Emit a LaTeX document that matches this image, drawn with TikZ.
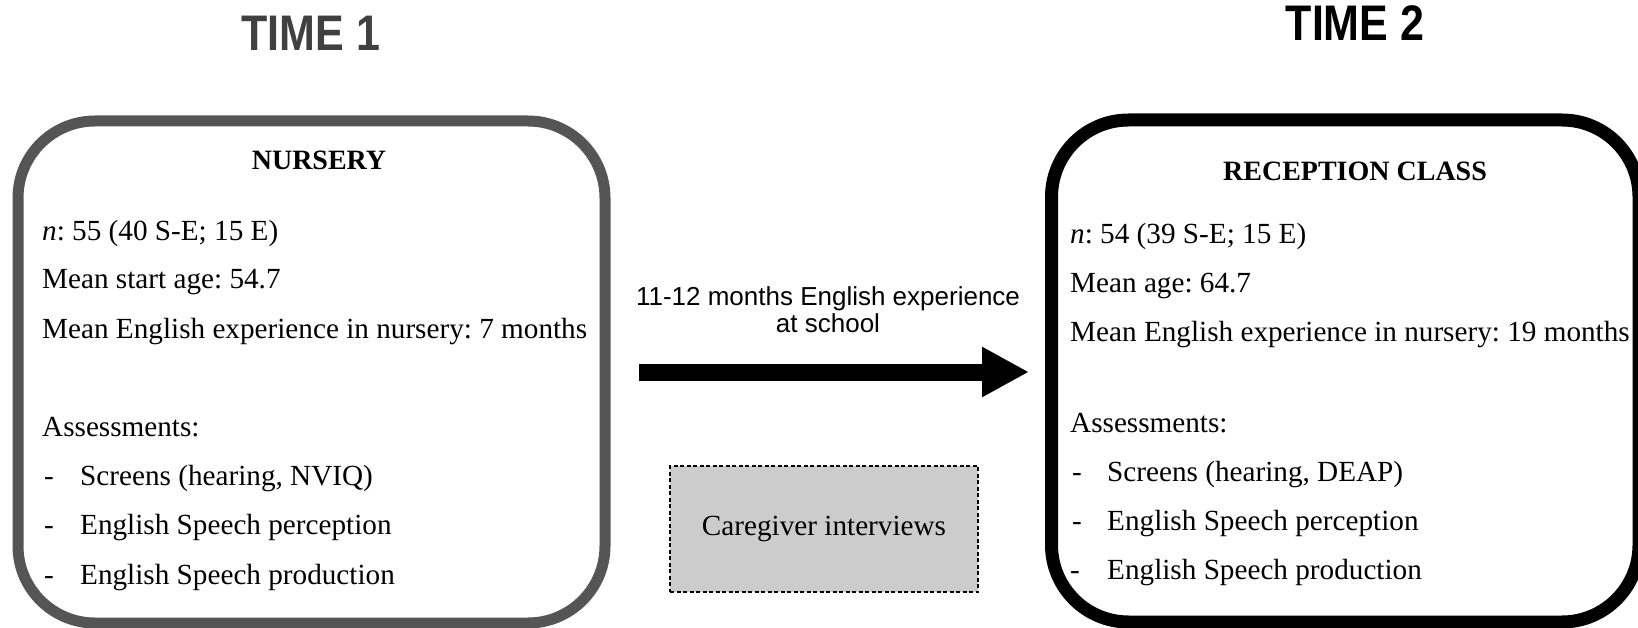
\documentclass[tikz,border=0pt]{standalone}
\usepackage{fontspec}
\setmainfont{Liberation Serif}
\newfontfamily\arialfont{Liberation Sans}
\usetikzlibrary{arrows.meta}
\frenchspacing
\definecolor{boxgray}{HTML}{555555}
\definecolor{titlegray}{HTML}{404040}
\definecolor{fillgray}{HTML}{CCCCCC}
\newcommand{\myBody}{\fontsize{29.2}{34}\selectfont}
\newcommand{\myHead}{\fontsize{28}{34}\selectfont\bfseries}
\newcommand{\myTitle}{\arialfont\bfseries\fontsize{50}{50}\selectfont}
\tikzset{
  bigbox/.style={draw, rounded corners=77pt, inner sep=0pt, line width=11pt},
  bodytext/.style={anchor=base west, inner sep=0pt, font=\myBody},
  headtext/.style={anchor=base, inner sep=0pt, font=\myHead},
  titletext/.style={inner sep=0pt, font=\myTitle},
  bigarrow/.style={line width=17pt, -{Triangle[length=47pt, width=47pt]}},
  carebox/.style={draw, dashed, dash pattern=on 4pt off 2.5pt, line width=1.5pt, fill=fillgray, inner sep=0pt, minimum width=308pt, minimum height=126pt, font=\myBody},
  arrowlabel/.style={align=center, inner sep=0pt, font=\arialfont\fontsize{26}{27}\selectfont}
}
\begin{document}
\begin{tikzpicture}[x=1pt, y=-1pt]
\useasboundingbox (0,0) rectangle (1638,628);
% titles
\node[titletext, text=titlegray] (t1) at (311,33) {\scalebox{0.86}[1]{TIME 1}};
\node[titletext, text=black] (t2) at (1355,23) {\scalebox{0.86}[1]{TIME 2}};
% left box
\node[bigbox, draw=boxgray, minimum width=587pt, minimum height=502pt] (nursery) at (311.5,372) {};
\node[headtext] (nh) at (319,170) {NURSERY};
\node[bodytext] (n1) at (42,241) {\textit{n}: 55 (40 S-E; 15 E)};
\node[bodytext] (n2) at (42,289) {Mean start age: 54.7};
\node[bodytext] (n3) at (42,338) {Mean English experience in nursery: 7 months};
\node[bodytext] (n4) at (42,436) {Assessments:};
\node[bodytext] (nd1) at (44,485) {-};
\node[bodytext] (n5) at (80,485) {Screens (hearing, NVIQ)};
\node[bodytext] (nd2) at (44,534) {-};
\node[bodytext] (n6) at (80,534) {English Speech perception};
\node[bodytext] (nd3) at (44,584) {-};
\node[bodytext] (n7) at (80,584) {English Speech production};
% right box
\node[bigbox, line width=13pt, draw=black, minimum width=587.5pt, minimum height=502pt] (reception) at (1345.25,371) {};
\node[headtext] (rh) at (1355,181) {RECEPTION CLASS};
\node[bodytext] (r1) at (1070,244) {\textit{n}: 54 (39 S-E; 15 E)};
\node[bodytext] (r2) at (1070,293) {Mean age: 64.7};
\node[bodytext] (r3) at (1070,341) {Mean English experience in nursery: 19 months};
\node[bodytext] (r4) at (1070,432) {Assessments:};
\node[bodytext] (rd1) at (1072,481) {-};
\node[bodytext] (r5) at (1107,481) {Screens (hearing, DEAP)};
\node[bodytext] (rd2) at (1072,530) {-};
\node[bodytext] (r6) at (1107,530) {English Speech perception};
\node[bodytext] (rd3) at (1070,579) {-};
\node[bodytext] (r7) at (1107,579) {English Speech production};
% arrow
\coordinate (as) at (639,372);
\coordinate (ae) at (1029,372);
\draw[bigarrow] (as) -- (ae);
\node[arrowlabel] (al) at (828,310) {11-12 months English experience\\at school};
% caregiver box
\node[carebox] (care) at (824,529) {Caregiver interviews};
\end{tikzpicture}
\end{document}
